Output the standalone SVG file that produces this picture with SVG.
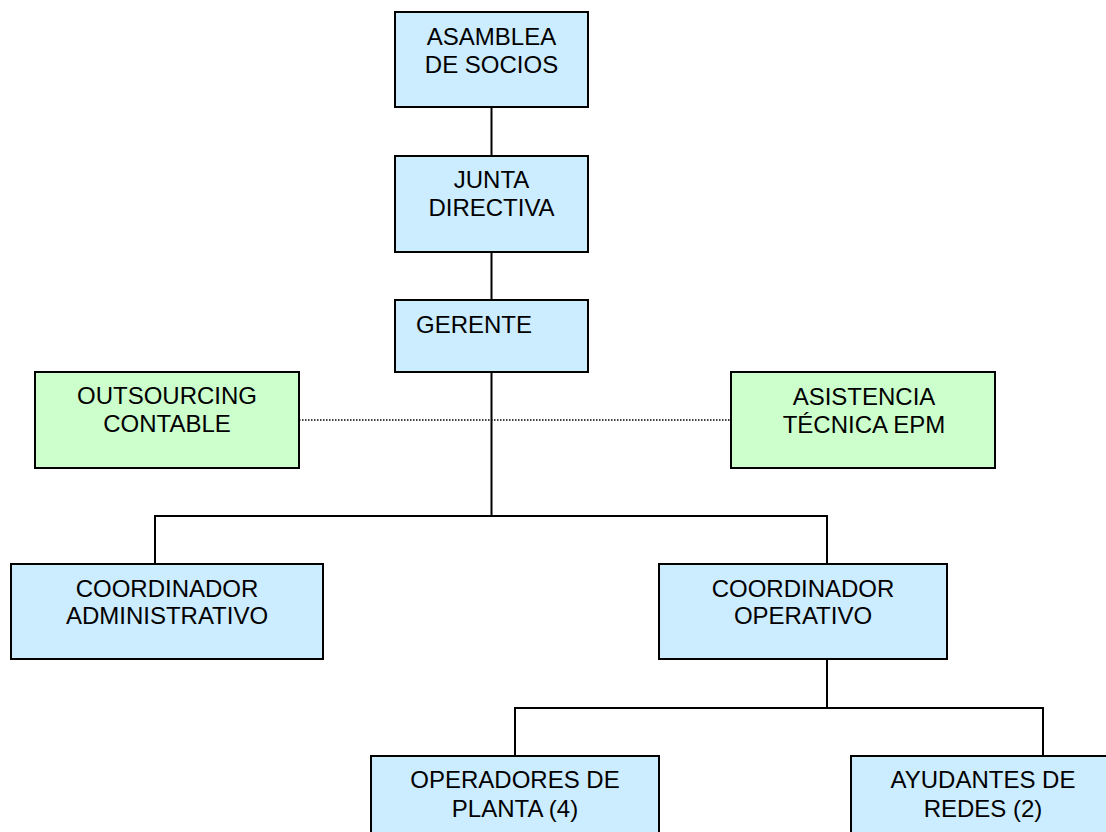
<svg xmlns="http://www.w3.org/2000/svg" width="1106" height="832" viewBox="0 0 1106 832">
  <style>
    .box { stroke: #000; stroke-width: 2; }
    .blue { fill: #CCECFF; }
    .green { fill: #CCFFCC; }
    .lbl { font-family: "Liberation Sans", Arial, sans-serif; font-size: 24px; fill: #000; text-anchor: middle; }
    .line { stroke: #000; stroke-width: 2; fill: none; }
    .dotted { stroke: #000; stroke-width: 1.5; stroke-dasharray: 1.5 1.5; fill: none; }
  </style>
  <rect width="1106" height="832" fill="#fff"/>

  <!-- reporting lines -->
  <g id="connectors">
    <line class="line" x1="491.5" y1="107" x2="491.5" y2="156"/>
    <line class="line" x1="491.5" y1="252" x2="491.5" y2="300"/>
    <polyline class="line" points="491.5,372 491.5,516"/>
    <polyline class="line" points="155,564 155,516 827,516 827,564"/>
    <polyline class="line" points="827,659 827,708"/>
    <polyline class="line" points="515,756 515,708 1043,708 1043,756"/>
    <line class="dotted" x1="299" y1="420" x2="731" y2="420"/>
  </g>

  <g id="asamblea">
    <rect class="box blue" x="395" y="12" width="193" height="95"/>
    <text class="lbl" x="491.5" y="45">ASAMBLEA</text>
    <text class="lbl" x="491.5" y="73">DE SOCIOS</text>
  </g>

  <g id="junta">
    <rect class="box blue" x="395" y="156" width="193" height="96"/>
    <text class="lbl" x="491.5" y="188">JUNTA</text>
    <text class="lbl" x="491.5" y="216">DIRECTIVA</text>
  </g>

  <g id="gerente">
    <rect class="box blue" x="395" y="300" width="193" height="72"/>
    <text class="lbl" x="416" y="333" style="text-anchor:start">GERENTE</text>
  </g>

  <g id="outsourcing">
    <rect class="box green" x="35" y="372" width="264" height="96"/>
    <text class="lbl" x="167" y="404">OUTSOURCING</text>
    <text class="lbl" x="167" y="432">CONTABLE</text>
  </g>

  <g id="asistencia">
    <rect class="box green" x="731" y="372" width="264" height="96"/>
    <text class="lbl" x="864" y="405">ASISTENCIA</text>
    <text class="lbl" x="864" y="433">TÉCNICA EPM</text>
  </g>

  <g id="coord-admin">
    <rect class="box blue" x="11" y="564" width="312" height="95"/>
    <text class="lbl" x="167" y="597">COORDINADOR</text>
    <text class="lbl" x="167" y="624">ADMINISTRATIVO</text>
  </g>

  <g id="coord-operativo">
    <rect class="box blue" x="659" y="564" width="288" height="95"/>
    <text class="lbl" x="803" y="597">COORDINADOR</text>
    <text class="lbl" x="803" y="624">OPERATIVO</text>
  </g>

  <g id="operadores">
    <rect class="box blue" x="371" y="756" width="288" height="100"/>
    <text class="lbl" x="515" y="788">OPERADORES DE</text>
    <text class="lbl" x="515" y="817">PLANTA (4)</text>
  </g>

  <g id="ayudantes">
    <rect class="box blue" x="851" y="756" width="270" height="100"/>
    <text class="lbl" x="983" y="788">AYUDANTES DE</text>
    <text class="lbl" x="983" y="817">REDES (2)</text>
  </g>
</svg>
